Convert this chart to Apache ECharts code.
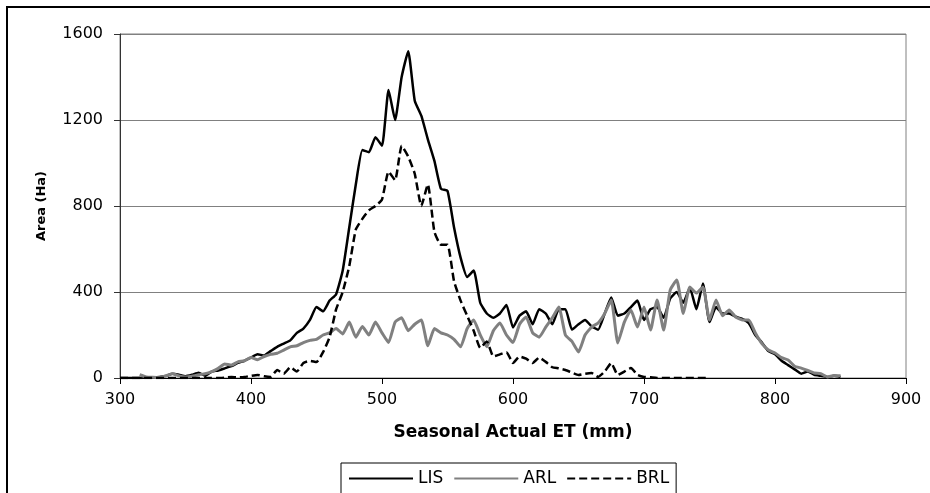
<!DOCTYPE html>
<html>
<head>
<meta charset="utf-8">
<title>Area vs Seasonal Actual ET</title>
<script src="https://cdn.jsdelivr.net/npm/echarts@6/dist/echarts.min.js"></script>
<style>
  html, body { margin: 0; padding: 0; background: #fff; overflow: hidden; }
  #chart { width: 930px; height: 493px; }
</style>
</head>
<body>
<div id="chart"></div>
<script>
// seasonal actual ET (mm), every 5 mm
const etValues = [
  300, 305, 310, 315, 320, 325, 330, 335, 340, 345,
  350, 355, 360, 365, 370, 375, 380, 385, 390, 395,
  400, 405, 410, 415, 420, 425, 430, 435, 440, 445,
  450, 455, 460, 465, 470, 475, 480, 485, 490, 495,
  500, 505, 510, 515, 520, 525, 530, 535, 540, 545,
  550, 555, 560, 565, 570, 575, 580, 585, 590, 595,
  600, 605, 610, 615, 620, 625, 630, 635, 640, 645,
  650, 655, 660, 665, 670, 675, 680, 685, 690, 695,
  700, 705, 710, 715, 720, 725, 730, 735, 740, 745,
  750, 755, 760, 765, 770, 775, 780, 785, 790, 795,
  800, 805, 810, 815, 820, 825, 830, 835, 840, 845,
  850, 855
];

// area (Ha)
const lisArea = [
  0, 0, 0, 0, 2, 3, 5, 10, 20, 15,
  8, 15, 25, 10, 30, 35, 45, 55, 70, 80,
  95, 110, 105, 125, 145, 160, 175, 210, 230, 270,
  330, 310, 360, 390, 500, 700, 900, 1060, 1050, 1120,
  1080, 1340, 1200, 1400, 1520, 1290, 1220, 1110, 1010, 880,
  870, 700, 560, 470, 500, 350, 300, 280, 300, 340,
  235, 290, 310, 250, 320, 300, 250, 320, 320, 225,
  250, 270, 240, 225, 300, 375, 290, 300, 330, 360,
  270, 320, 330, 280, 370, 400, 350, 420, 320, 440,
  260, 330, 300, 300, 285, 275, 255, 200, 165, 125,
  110, 80, 60, 40, 20, 30, 15, 10, 5, 10,
  5, null
];

const arlArea = [
  null, null, null, 15, 5, 3, 2, 10, 20, 10,
  5, 8, 15, 20, 30, 45, 65, 60, 75, 80,
  95, 85, 100, 110, 115, 130, 145, 150, 165, 175,
  180, 200, 210, 230, 205, 260, 190, 240, 200, 260,
  210, 165, 260, 280, 220, 250, 270, 150, 230, 210,
  200, 180, 145, 230, 270, 200, 145, 220, 256, 200,
  165, 250, 284, 210, 190, 237, 280, 330, 200, 170,
  121, 200, 237, 256, 300, 363, 163, 260, 316, 237,
  330, 223, 363, 223, 409, 456, 300, 423, 395, 423,
  270, 363, 290, 316, 284, 270, 270, 209, 160, 130,
  116, 95, 84, 55, 46, 35, 23, 20, 5, 12,
  10, null
];

const brlArea = [
  0, 0, 0, 0, 0, 0, 0, 0, 0, 0,
  0, 0, 0, 0, 0, 0, 2, 5, 3, 5,
  10, 14, 8, 5, 37, 20, 50, 30, 70, 80,
  74, 120, 190, 320, 400, 520, 690, 740, 780, 800,
  830, 960, 920, 1080, 1030, 950, 800, 900, 680, 620,
  620, 450, 360, 290, 220, 140, 170, 100, 110, 120,
  70, 100, 90, 70, 95, 75, 50, 45, 37, 25,
  14, 20, 23, 5, 30, 70, 14, 30, 46, 15,
  5, 3, 0, 0, 0, 0, 0, 0, 0, 0,
  0, null
];

const seriesNames = ['LIS', 'ARL', 'BRL'];

const pairs = ys => etValues
  .map((x, i) => [x, ys[i]])
  .filter(p => p[1] !== null && p[1] !== undefined);

const font = 'DejaVu Sans';

const chart = echarts.init(document.getElementById('chart'));

chart.setOption({
  animation: false,
  backgroundColor: '#fff',
  graphic: [{
    type: 'rect',
    silent: true,
    z: -1,
    shape: { x: 7, y: 7, width: 1000, height: 1000 },
    style: { fill: 'none', stroke: '#000', lineWidth: 2 }
  }],
  grid: {
    left: 120, right: 24, top: 34, bottom: 115,
    show: true, borderColor: '#808080', borderWidth: 1
  },
  legend: {
    data: seriesNames,
    left: 341, top: 463,
    padding: [7, 7, 7, 7],
    borderColor: '#000', borderWidth: 1, borderRadius: 0,
    itemWidth: 64, itemHeight: 14, itemGap: 10,
    itemStyle: { opacity: 0 },
    textStyle: { fontFamily: font, fontSize: 17, color: '#000' }
  },
  xAxis: {
    type: 'value',
    min: 300, max: 900, interval: 100,
    name: 'Seasonal Actual ET (mm)',
    nameLocation: 'middle', nameGap: 46,
    nameTextStyle: { fontFamily: font, fontWeight: 'bold', fontSize: 17, color: '#000' },
    axisLine: { show: true, lineStyle: { color: '#000', width: 1 } },
    axisTick: { show: true, length: 6, lineStyle: { color: '#000' } },
    axisLabel: { margin: 14, fontFamily: font, fontSize: 16, color: '#000' },
    splitLine: { show: false }
  },
  yAxis: {
    type: 'value',
    min: 0, max: 1600, interval: 400,
    name: 'Area (Ha)',
    nameLocation: 'middle', nameGap: 72, nameRotate: 90,
    nameTextStyle: { fontFamily: font, fontWeight: 'bold', fontSize: 13, color: '#000' },
    axisLine: { show: true, lineStyle: { color: '#333', width: 1 } },
    axisTick: { show: true, length: 6, lineStyle: { color: '#333' } },
    axisLabel: {
      margin: 17, fontFamily: font, fontSize: 16, color: '#000',
      formatter: v => String(v)
    },
    splitLine: { show: true, lineStyle: { color: '#808080', width: 1 } }
  },
  series: [
    {
      name: 'LIS', type: 'line', data: pairs(lisArea),
      symbol: 'none', smooth: 0.15,
      lineStyle: { color: '#000', width: 2.5 },
      itemStyle: { color: '#000' }
    },
    {
      name: 'ARL', type: 'line', data: pairs(arlArea),
      symbol: 'none', smooth: 0.15,
      lineStyle: { color: '#808080', width: 3 },
      itemStyle: { color: '#808080' }
    },
    {
      name: 'BRL', type: 'line', data: pairs(brlArea),
      symbol: 'none', smooth: 0.15,
      lineStyle: { color: '#000', width: 2.5, type: [8, 4] },
      itemStyle: { color: '#000' }
    }
  ]
});
</script>
</body>
</html>
